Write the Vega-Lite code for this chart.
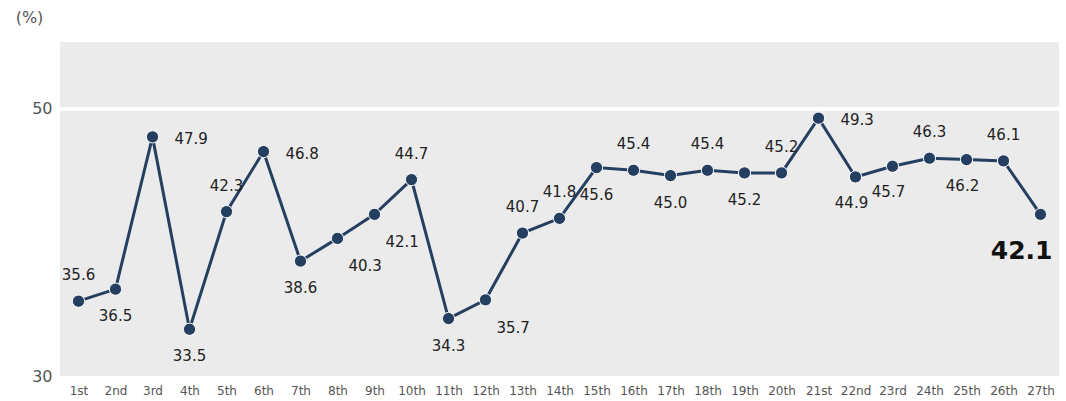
{
  "$schema": "https://vega.github.io/schema/vega-lite/v6.json",
  "width": 999,
  "height": 334,
  "autosize": {"type": "none"},
  "padding": {"left": 60, "top": 42, "right": 7, "bottom": 25},
  "background": "white",
  "config": {
    "view": {"fill": "#ebebeb", "stroke": null},
    "font": "DejaVu Sans",
    "axisY": {"titleFontSize": 16, "titleFontWeight": "normal", "titleColor": "#555555", "titleFont": "DejaVu Sans"}
  },
  "data": {
    "values": [
      {"round": "1st", "value": 35.6},
      {"round": "2nd", "value": 36.5},
      {"round": "3rd", "value": 47.9},
      {"round": "4th", "value": 33.5},
      {"round": "5th", "value": 42.3},
      {"round": "6th", "value": 46.8},
      {"round": "7th", "value": 38.6},
      {"round": "8th", "value": 40.3},
      {"round": "9th", "value": 42.1},
      {"round": "10th", "value": 44.7},
      {"round": "11th", "value": 34.3},
      {"round": "12th", "value": 35.7},
      {"round": "13th", "value": 40.7},
      {"round": "14th", "value": 41.8},
      {"round": "15th", "value": 45.6},
      {"round": "16th", "value": 45.4},
      {"round": "17th", "value": 45.0},
      {"round": "18th", "value": 45.4},
      {"round": "19th", "value": 45.2},
      {"round": "20th", "value": 45.2},
      {"round": "21st", "value": 49.3},
      {"round": "22nd", "value": 44.9},
      {"round": "23rd", "value": 45.7},
      {"round": "24th", "value": 46.3},
      {"round": "25th", "value": 46.2},
      {"round": "26th", "value": 46.1},
      {"round": "27th", "value": 42.1}
    ]
  },
  "encoding": {
    "x": {
      "field": "round", "type": "ordinal", "sort": null,
      "scale": {"paddingInner": 0, "paddingOuter": 0},
      "axis": {"title": null, "ticks": false, "domain": false, "labelAngle": 0, "labelFontSize": 12, "labelColor": "#555555", "labelPadding": 9, "labelFont": "DejaVu Sans"}
    },
    "y": {
      "field": "value", "type": "quantitative",
      "scale": {"domain": [30, 55], "nice": false, "zero": false},
      "axis": {"values": [30, 50], "grid": false, "ticks": false, "domain": false, "labelFontSize": 16, "labelColor": "#555555", "labelPadding": 8, "labelFont": "DejaVu Sans",
        "title": "(%)", "titleAngle": 0, "titleAlign": "center", "titleBaseline": "middle", "titleX": -31, "titleY": -25, "titleFontSize": 16, "titleFontWeight": "normal", "titleColor": "#555555", "titleFont": "DejaVu Sans"}
    }
  },
  "layer": [
    {
      "mark": {"type": "rule", "color": "white", "strokeWidth": 3},
      "encoding": {"y": {"datum": 50}, "x": {"value": 0}, "x2": {"value": 999}}
    },
    {
      "mark": {"type": "line", "color": "#253f61", "strokeWidth": 3}
    },
    {
      "mark": {"type": "point", "filled": true, "size": 150, "color": "#253f61", "stroke": "white", "strokeWidth": 1, "opacity": 1}
    },
    {
      "transform": [{"filter": {"field": "round", "oneOf": ["1st", "5th", "10th", "13th", "14th", "16th", "18th", "20th", "24th", "26th"]}}],
      "mark": {"type": "text", "dy": -26, "fontSize": 15, "color": "#222222", "font": "DejaVu Sans"},
      "encoding": {"text": {"field": "value", "format": ".1f"}}
    },
    {
      "transform": [{"filter": {"field": "round", "oneOf": ["2nd", "4th", "7th", "11th", "15th", "17th", "19th"]}}],
      "mark": {"type": "text", "dy": 27, "fontSize": 15, "color": "#222222", "font": "DejaVu Sans"},
      "encoding": {"text": {"field": "value", "format": ".1f"}}
    },
    {
      "transform": [{"filter": {"field": "round", "oneOf": ["22nd", "23rd", "25th"]}}],
      "mark": {"type": "text", "dy": 26, "dx": -4, "fontSize": 15, "color": "#222222", "font": "DejaVu Sans"},
      "encoding": {"text": {"field": "value", "format": ".1f"}}
    },
    {
      "transform": [{"filter": {"field": "round", "oneOf": ["3rd", "6th", "21st"]}}],
      "mark": {"type": "text", "align": "left", "dx": 22, "dy": 2, "fontSize": 15, "color": "#222222", "font": "DejaVu Sans"},
      "encoding": {"text": {"field": "value", "format": ".1f"}}
    },
    {
      "transform": [{"filter": {"field": "round", "oneOf": ["8th", "9th", "12th"]}}],
      "mark": {"type": "text", "align": "left", "dx": 11, "dy": 28, "fontSize": 15, "color": "#222222", "font": "DejaVu Sans"},
      "encoding": {"text": {"field": "value", "format": ".1f"}}
    },
    {
      "transform": [{"filter": {"field": "round", "oneOf": ["27th"]}}],
      "mark": {"type": "text", "align": "right", "dx": 12, "dy": 37, "fontSize": 25, "fontWeight": "bold", "color": "#111111", "font": "DejaVu Sans"},
      "encoding": {"text": {"field": "value", "format": ".1f"}}
    }
  ]
}
